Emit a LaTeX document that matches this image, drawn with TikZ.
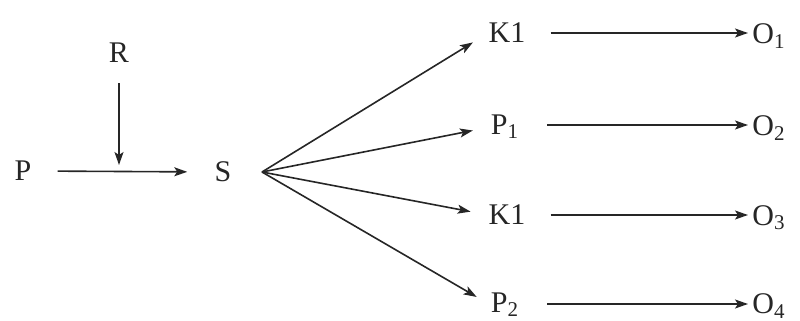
\documentclass[tikz,border=0pt]{standalone}
\usepackage{fontspec}
\setmainfont{Liberation Serif}
\usetikzlibrary{arrows.meta}
\begin{document}
\begin{tikzpicture}[x=0.5pt,y=-0.5pt,
  lbl/.style={inner sep=0pt,font=\fontsize{15}{18}\selectfont,text=black!85},
  arr/.style={draw=black!85,line width=0.8pt,-{Stealth[length=6.5pt,width=4.5pt,inset=1.5pt]}}]
\useasboundingbox (0,0) rectangle (800,321);
% nodes
\node[lbl] (P) at (23,171) {P};
\node[lbl] (R) at (119,53) {R};
\node[lbl] (S) at (223,172) {S};
\coordinate (fan) at (262,172);
\coordinate (j) at (119,165);
\node[lbl] (K1a) at (507,33) {K1};
\node[lbl] (P1) at (505,127) {P\textsubscript{1}};
\node[lbl] (K1b) at (507,215) {K1};
\node[lbl] (P2) at (505,305) {P\textsubscript{2}};
\node[lbl,anchor=west] (O1) at (752,36) {O\textsubscript{1}};
\node[lbl,anchor=west] (O2) at (752,128) {O\textsubscript{2}};
\node[lbl,anchor=west] (O3) at (752,218) {O\textsubscript{3}};
\node[lbl,anchor=west] (O4) at (752,306) {O\textsubscript{4}};
% connectors
\draw[arr,shorten <=13pt,shorten >=13.5pt] (P.east) -- (S.west);
\draw[arr,shorten <=10pt] (R.south) -- (j);
\draw[arr,shorten >=9pt] (fan) -- (K1a.west);
\draw[arr,shorten >=9pt] (fan) -- (P1.west);
\draw[arr,shorten >=9pt] (fan) -- (K1b.west);
\draw[arr,shorten >=8pt] (fan) -- (P2.west);
\draw[arr,shorten <=12.5pt,shorten >=2pt] (K1a.east) -- (O1.west |- K1a.east);
\draw[arr,shorten <=14pt,shorten >=2pt] (P1.east |- 0,125) -- (O2.west |- 0,125);
\draw[arr,shorten <=12.5pt,shorten >=2pt] (K1b.east) -- (O3.west |- K1b.east);
\draw[arr,shorten <=14pt,shorten >=2pt] (P2.east |- 0,304) -- (O4.west |- 0,304);
\end{tikzpicture}
\end{document}
